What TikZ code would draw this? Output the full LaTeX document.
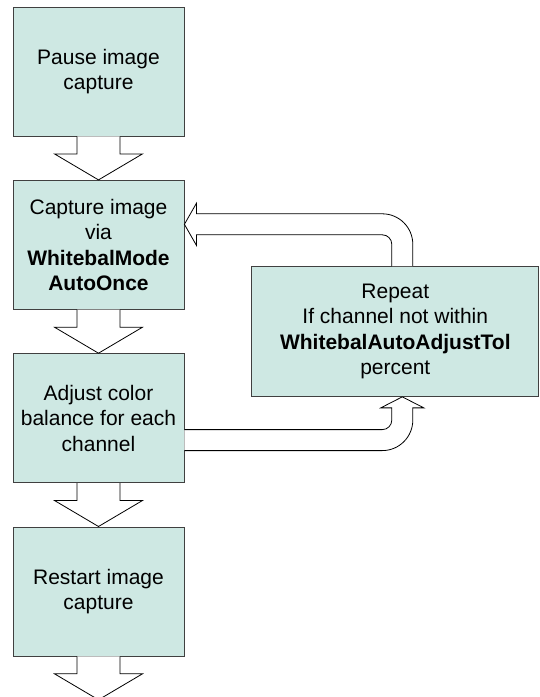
\documentclass[tikz,border=0pt]{standalone}
\usepackage{fontspec}
\setmainfont{Liberation Sans}
\usepackage{tikz}
\usetikzlibrary{positioning}
\usetikzlibrary{calc}
\definecolor{boxteal}{RGB}{206,232,227}

\begin{document}
\begin{tikzpicture}[x=1pt,y=1pt,node distance=43.5pt,
  box node/.style={rectangle,draw=black!75,fill=boxteal,line width=0.8pt,minimum width=171pt,
    minimum height=129pt,inner sep=0pt,align=center,font=\fontsize{21pt}{25.5pt}\selectfont},
  flow arrow/.style={draw=black,fill=white,line width=0.8pt,line join=miter}]

  \useasboundingbox (0,0) rectangle (539,-697);

  \node[box node] (1) at (98.5,-71.5) {Pause image\\capture};
  \node[box node] (2) [below=of 1] {Capture image\\via\\\textbf{WhitebalMode}\\\textbf{AutoOnce}};
  \node[box node] (3) [below=of 2] {Adjust color\\balance for each\\channel};
  \node[box node] (4) [below=of 3] {Restart image\\capture};
  \coordinate[below=of 4] (end);

  \coordinate (mid) at ($(2.east)!.5!(3.east)$);
  \node[box node,minimum width=287pt,minimum height=130pt] (r) [right=67pt of mid]
    {Repeat\\If channel not within\\\textbf{WhitebalAutoAdjustTol}\\percent};

  % block arrows down the column
  \foreach \a/\b in {1.south/2.north,2.south/3.north,3.south/4.north,4.south/end}
    \draw[flow arrow] ($(\a)+(-21.5,0)$) -- ++(0,-17.5) -- ++(-22.5,0) -- (\b)
      -- ($(\b)+(44,26)$) -- ($(\b)+(21.5,26)$) -- ($(\a)+(21.5,0)$);

  \coordinate (up) at ($(2.east)+(0,20.5)$);
  \coordinate (upstem) at ($(r.north)+(7,0)$);
  \coordinate (lo) at ($(3.east)+(0,-22)$);
  \coordinate (lostem) at ($(r.south)+(7,0)$);

  % back to capture
  \draw[flow arrow] ($(upstem)+(-10.5,0)$) -- ($(upstem |- up)+(-10.5,-20)$)
    arc[start angle=0,end angle=90,radius=9.5pt] -- ($(up)+(12,-10.5)$) -- ($(up)+(12,-21)$)
    -- (up) -- ($(up)+(12,21)$) -- ($(up)+(12,10.5)$) -- ($(upstem |- up)+(-20,10.5)$)
    arc[start angle=90,end angle=0,radius=30.5pt] -- ($(upstem)+(10.5,0)$);

  % into repeat
  \draw[flow arrow] ($(lo)+(0,10.5)$) -- ($(lo -| lostem)+(-20,10.5)$)
    arc[start angle=-90,end angle=0,radius=9.5pt] -- ($(lostem)+(-10.5,-11)$)
    -- ($(lostem)+(-21.5,-11)$) -- (lostem) -- ($(lostem)+(21.5,-11)$) -- ($(lostem)+(10.5,-11)$)
    -- ($(lo -| lostem)+(10.5,20)$) arc[start angle=0,end angle=-90,radius=30.5pt] -- ($(lo)+(0,-10.5)$);
\end{tikzpicture}
\end{document}
